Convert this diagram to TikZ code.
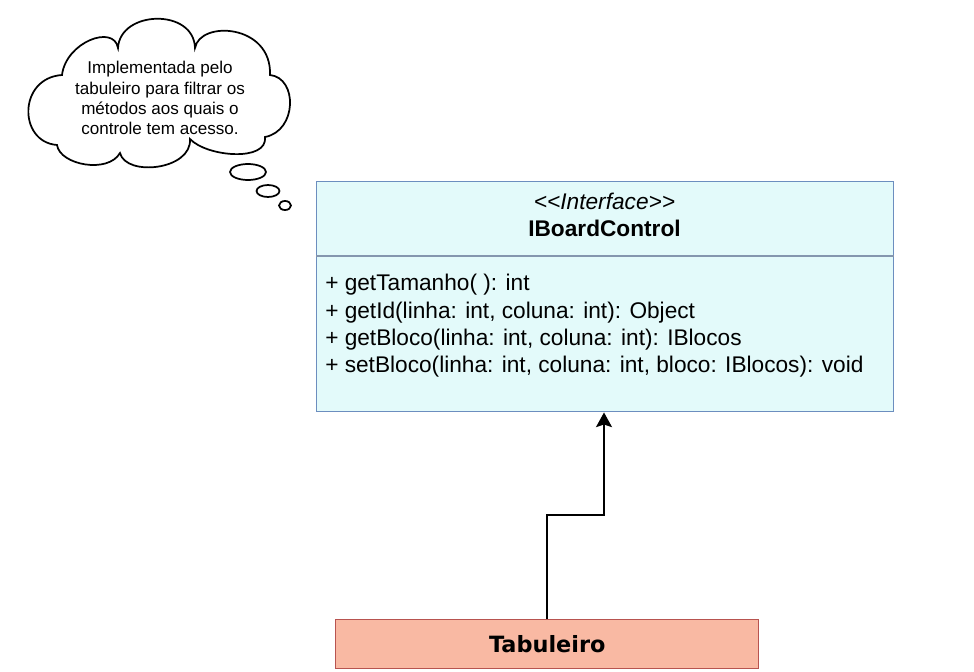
\documentclass[tikz,border=0pt]{standalone}
\usepackage{fontspec}
\setmainfont{Liberation Sans}
\newfontfamily\verd{DejaVu Sans}
\usetikzlibrary{arrows.meta}
\definecolor{ifill}{HTML}{E3FAFA}
\definecolor{idraw}{HTML}{6C8EBF}
\definecolor{idiv}{HTML}{8496AE}
\definecolor{tfill}{HTML}{F9B9A3}
\definecolor{tdraw}{HTML}{B85450}
\tikzset{
  cloudline/.style={draw=black, line width=1.3pt, fill=white},
  classbox/.style={draw=idraw, fill=ifill, line width=1.1pt, rectangle, inner sep=0pt},
  tabbox/.style={draw=tdraw, fill=tfill, line width=1.1pt, rectangle, inner sep=0pt},
  btxt/.style={font=\fontsize{17}{20.8}\selectfont, inner sep=0pt},
  ctxt/.style={font=\fontsize{12.8}{15.1}\selectfont, align=center, inner sep=0pt},
  inherit/.style={draw=black, line width=1.5pt, -{Stealth[length=11pt, width=12pt, inset=2pt]}}
}
\begin{document}
\begin{tikzpicture}[x=0.75pt, y=-0.75pt]
\useasboundingbox (0,0) rectangle (974,671);
% thought cloud
\draw[cloudline] (62,75) .. controls (66,42) and (114,24) .. (118,48)
  .. controls (120,10) and (194,8) .. (195,48)
  .. controls (200,20) and (272,24) .. (270,75)
  .. controls (298,78) and (297,131) .. (265,137)
  .. controls (268,162) and (207,157) .. (190,139)
  .. controls (192,170) and (126,177) .. (120,153)
  .. controls (108,174) and (60,165) .. (57,145)
  .. controls (18,142) and (18,78) .. (62,75) -- cycle;
\node[ctxt] (note) at (160,98) {Implementada pelo\\tabuleiro para filtrar os\\métodos aos quais o\\controle tem acesso.};
\draw[line width=1.3pt] (248,172) ellipse [x radius=13.5pt, y radius=6pt];
\draw[line width=1.3pt] (268,191) ellipse [x radius=8.6pt, y radius=4.5pt];
\draw[line width=1.3pt] (285,205.5) ellipse [x radius=4.5pt, y radius=3.4pt];
% interface class
\node[classbox, anchor=north west, minimum width=432.75pt, minimum height=172.5pt] (iface) at (316,181) {};
\draw[idiv, line width=1.1pt] (iface.west |- 0,256) -- (iface.east |- 0,256);
\node[btxt, font=\fontsize{17}{20.8}\selectfont\itshape] (stereo) at (604.5,201.5) {<{}<Interface>{}>};
\node[btxt, font=\fontsize{17}{20.8}\selectfont\bfseries] (iname) at (604.5,228) {IBoardControl};
\node[btxt, anchor=base west] (m1) at (325,290) {+ getTamanho( ): int};
\node[btxt, anchor=base west] (m2) at (325,318) {+ getId(linha: int, coluna: int): Object};
\node[btxt, anchor=base west] (m3) at (325,345.5) {+ getBloco(linha: int, coluna: int): IBlocos};
\node[btxt, anchor=base west] (m4) at (325,372.5) {+ setBloco(linha: int, coluna: int, bloco: IBlocos): void};
% Tabuleiro
\node[tabbox, anchor=north west, minimum width=317.25pt, minimum height=36.75pt, font=\verd\bfseries\fontsize{16.8}{20}\selectfont] (tab) at (335,619) {Tabuleiro};
% inheritance connector
\coordinate (bend) at (604,515);
\draw[inherit] (tab.north) |- (bend) -- (bend |- iface.south);
\end{tikzpicture}
\end{document}
